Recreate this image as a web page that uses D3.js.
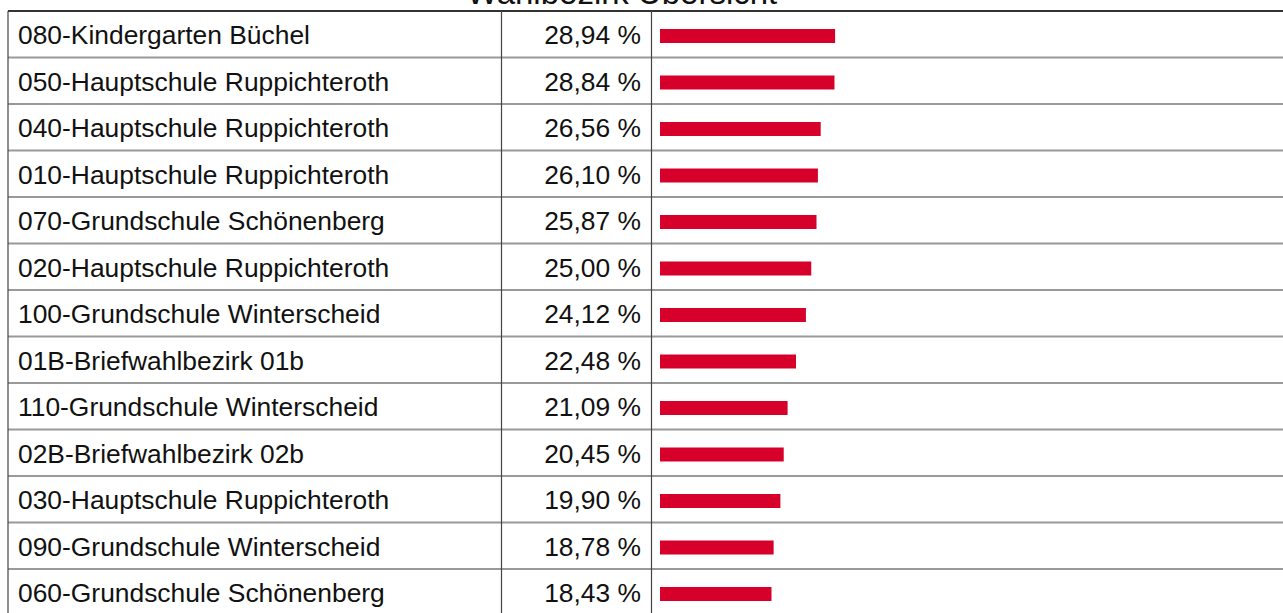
<!DOCTYPE html>
<html>
<head>
<meta charset="utf-8">
<script src="https://cdn.jsdelivr.net/npm/d3@7"></script>
<style>
  html, body { margin: 0; padding: 0; background: #fff; overflow: hidden; }
  svg { display: block; font-family: "Liberation Sans", Arial, sans-serif; }
</style>
</head>
<body>
<svg id="chart" width="1283" height="613"></svg>
<script>
// Wahlbezirke, sortiert nach Stimmenanteil
const districts = [
  "080-Kindergarten Büchel",
  "050-Hauptschule Ruppichteroth",
  "040-Hauptschule Ruppichteroth",
  "010-Hauptschule Ruppichteroth",
  "070-Grundschule Schönenberg",
  "020-Hauptschule Ruppichteroth",
  "100-Grundschule Winterscheid",
  "01B-Briefwahlbezirk 01b",
  "110-Grundschule Winterscheid",
  "02B-Briefwahlbezirk 02b",
  "030-Hauptschule Ruppichteroth",
  "090-Grundschule Winterscheid",
  "060-Grundschule Schönenberg"
];
const shares = [28.94, 28.84, 26.56, 26.10, 25.87, 25.00, 24.12, 22.48, 21.09, 20.45, 19.90, 18.78, 18.43];
const title = "Wahlbezirk Übersicht";

const rows = districts.map((d, i) => ({ name: d, value: shares[i] }));
const fmt = v => d3.format(".2f")(v).replace(".", ",") + " %";

const svg = d3.select("#chart");
const tableLeft = 8, tableRight = 1290, tableTop = 11, rowH = 46.5;
const col1 = 501.5, col2 = 651.5, barX0 = 660;
const fontSize = 26.4;

const y = d3.scaleBand()
  .domain(districts)
  .range([tableTop, tableTop + rowH * districts.length])
  .paddingInner(0).paddingOuter(0);

const x = d3.scaleLinear().domain([0, 100]).range([0, 605]);

// Titel über der Tabelle
svg.append("text")
  .attr("x", 622).attr("y", 4)
  .attr("text-anchor", "middle")
  .attr("font-size", 33)
  .attr("fill", "#111")
  .text(title);

const g = svg.append("g");

// Zeilentrenner
g.selectAll("line.row")
  .data(districts.slice(1))
  .join("line")
  .attr("class", "row")
  .attr("x1", tableLeft).attr("x2", tableRight)
  .attr("y1", d => y(d)).attr("y2", d => y(d))
  .attr("stroke", "#999").attr("stroke-width", 2);

// obere Kante
g.append("line")
  .attr("x1", tableLeft).attr("x2", tableRight)
  .attr("y1", tableTop).attr("y2", tableTop)
  .attr("stroke", "#333").attr("stroke-width", 2);

// Spaltentrenner
[tableLeft, col1, col2].forEach(cx => {
  g.append("line")
    .attr("x1", cx).attr("x2", cx)
    .attr("y1", tableTop).attr("y2", 620)
    .attr("stroke", "#444").attr("stroke-width", 1.2);
});

const row = g.selectAll("g.r")
  .data(rows)
  .join("g")
  .attr("class", "r")
  .attr("transform", d => `translate(0,${y(d.name)})`);

row.append("text")
  .attr("x", 18)
  .attr("y", rowH / 2 + 1)
  .attr("dominant-baseline", "central")
  .attr("font-size", fontSize)
  .attr("fill", "#111")
  .text(d => d.name);

row.append("text")
  .attr("x", 641)
  .attr("y", rowH / 2 + 1)
  .attr("dominant-baseline", "central")
  .attr("text-anchor", "end")
  .attr("font-size", fontSize)
  .attr("fill", "#111")
  .text(d => fmt(d.value));

row.append("rect")
  .attr("x", barX0)
  .attr("y", 18)
  .attr("height", 14)
  .attr("width", d => x(d.value))
  .attr("fill", "#d7002a");
</script>
</body>
</html>
